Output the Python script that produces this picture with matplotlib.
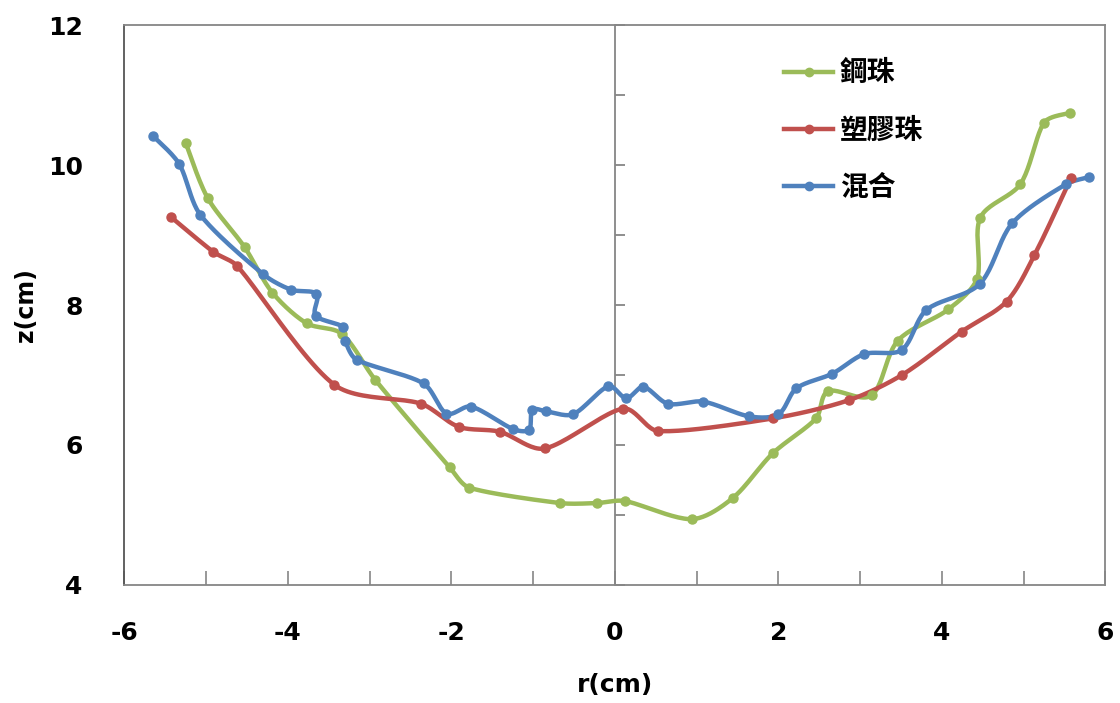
import numpy as np
import matplotlib
matplotlib.use("Agg")
import matplotlib.pyplot as plt

plt.rcParams["axes.unicode_minus"] = False

# 鋼珠
r_steel = [-5.25, -4.98, -4.53, -4.19, -3.77, -3.34, -2.93, -2.02, -1.78, -0.67, -0.22,
           0.12, 0.94, 1.44, 1.93, 2.46, 2.61, 3.14, 3.46, 4.08, 4.43, 4.47, 4.96, 5.25, 5.57]
z_steel = [10.32, 9.53, 8.83, 8.18, 7.74, 7.59, 6.93, 5.68, 5.39, 5.17, 5.17,
           5.20, 4.94, 5.24, 5.88, 6.38, 6.77, 6.71, 7.49, 7.94, 8.38, 9.25, 9.73, 10.61, 10.75]

# 塑膠珠
r_plastic = [-5.43, -4.91, -4.62, -3.43, -2.37, -1.91, -1.41, -0.86, 0.10, 0.53,
             1.93, 2.86, 3.51, 4.24, 4.79, 5.13, 5.58]
z_plastic = [9.26, 8.76, 8.56, 6.86, 6.59, 6.26, 6.19, 5.95, 6.52, 6.20,
             6.38, 6.64, 7.00, 7.62, 8.05, 8.71, 9.82]

# 混合
r_mix = [-5.65, -5.33, -5.07, -4.30, -3.96, -3.65, -3.66, -3.33, -3.30, -3.16, -2.34,
         -2.06, -1.76, -1.25, -1.05, -1.01, -0.84, -0.51, -0.08, 0.14, 0.35, 0.65,
         1.08, 1.64, 2.00, 2.22, 2.66, 3.05, 3.51, 3.81, 4.46, 4.86, 5.52, 5.80]
z_mix = [10.42, 10.02, 9.29, 8.44, 8.22, 8.16, 7.85, 7.69, 7.49, 7.22, 6.88,
         6.45, 6.55, 6.23, 6.22, 6.50, 6.48, 6.44, 6.84, 6.67, 6.83, 6.59,
         6.62, 6.41, 6.44, 6.81, 7.02, 7.30, 7.36, 7.93, 8.30, 9.17, 9.73, 9.83]

x_ticks = [-6, -4, -2, 0, 2, 4, 6]
y_ticks = [4, 6, 8, 10, 12]

GRAY = "#868686"


def smooth(xs, ys, n=24):
    """ Curva suavizada tipo Excel, con tangentes limitadas """
    k = np.array([1.0, 70 / 81.85])  # escala aproximada en pixeles
    p = np.column_stack([xs, ys]).astype(float) * k
    p = np.vstack([p[0], p, p[-1]])
    t = np.linspace(0, 1, n)[:, None]
    out = []
    for i in range(1, len(p) - 2):
        p0, p1, p2, p3 = p[i - 1], p[i], p[i + 1], p[i + 2]
        seg_len = np.linalg.norm(p2 - p1)
        d1 = (p2 - p0) / 6
        d2 = (p3 - p1) / 6
        lim = 0.3 * seg_len
        if np.linalg.norm(d1) > lim:
            d1 = d1 * lim / np.linalg.norm(d1)
        if np.linalg.norm(d2) > lim:
            d2 = d2 * lim / np.linalg.norm(d2)
        c1 = p1 + d1
        c2 = p2 - d2
        seg = ((1 - t) ** 3) * p1 + 3 * ((1 - t) ** 2) * t * c1 + 3 * (1 - t) * t ** 2 * c2 + t ** 3 * p2
        out.append(seg if i == 1 else seg[1:])
    s = np.vstack(out) / k
    return s[:, 0], s[:, 1]


fig = plt.figure(figsize=(11.2, 7.03), dpi=100)
ax = fig.add_axes([0.111, 0.168, 0.876, 0.796])

series = [
    (r_steel, z_steel, "#9BBB59", "鋼珠"),
    (r_plastic, z_plastic, "#C0504D", "塑膠珠"),
    (r_mix, z_mix, "#4F81BD", "混合"),
]
for xs, ys, col, lab in series:
    sx, sy = smooth(xs, ys)
    ax.plot(sx, sy, color=col, lw=3.2, solid_capstyle="round", solid_joinstyle="round", zorder=3)
    ax.plot(xs, ys, "o", color=col, ms=6.5, zorder=4)
    ax.plot([], [], color=col, lw=3.2, marker="o", ms=6, label=lab)

# eje vertical en r = 0
yy = np.arange(4, 13)
ax.plot(np.zeros(len(yy)), yy, color=GRAY, lw=1.3, marker=1, ms=7, mew=1.3, zorder=2, clip_on=False)

ax.set_xlim(-6, 6)
ax.set_ylim(4, 12)
ax.set_xticks(x_ticks)
ax.set_xticks(np.arange(-6, 7), minor=True)
ax.set_yticks(y_ticks)
ax.tick_params(axis="x", which="both", direction="in", length=10, width=1.2, color=GRAY, pad=26)
ax.tick_params(axis="y", length=0, pad=30)
for s in ax.spines.values():
    s.set_color(GRAY)
    s.set_linewidth(1.3)
ax.spines["left"].set_color("#555555")

for lbl in ax.get_xticklabels() + ax.get_yticklabels():
    lbl.set_fontweight("bold")
    lbl.set_fontsize(18)

ax.set_xlabel("r(cm)", fontsize=18, fontweight="bold", labelpad=20)
ax.set_ylabel("z(cm)", fontsize=17, fontweight="bold", labelpad=6)
ax.yaxis.set_label_coords(-0.088, 0.5)

leg = ax.legend(loc="upper left", bbox_to_anchor=(0.678, 0.951), bbox_transform=fig.transFigure,
                frameon=False, handlelength=1.75, handletextpad=0.25, labelspacing=1.05,
                prop={"family": ["Noto Sans CJK TC", "DejaVu Sans"], "weight": "bold", "size": 20})

fig.savefig("out.png", dpi=100)
